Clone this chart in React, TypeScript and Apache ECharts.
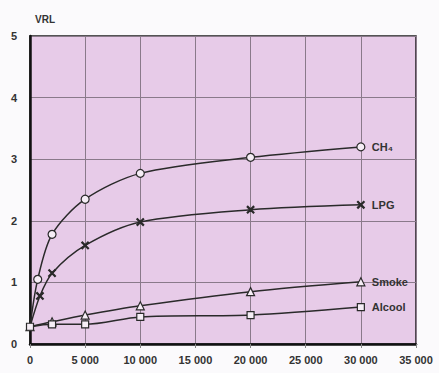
import React, { useEffect, useRef } from "react";
import * as echarts from "echarts";

const ch4X = [0, 700, 2000, 5000, 10000, 20000, 30000];
const ch4Y = [0.28, 1.05, 1.78, 2.35, 2.77, 3.03, 3.2];
const lpgX = [0, 900, 2000, 5000, 10000, 20000, 30000];
const lpgY = [0.28, 0.78, 1.15, 1.6, 1.98, 2.18, 2.26];
const smokeX = [0, 2000, 5000, 10000, 20000, 30000];
const smokeY = [0.28, 0.36, 0.47, 0.62, 0.85, 1.01];
const alcoolX = [0, 2000, 5000, 10000, 20000, 30000];
const alcoolY = [0.28, 0.32, 0.32, 0.44, 0.47, 0.6];
const seriesNames = ["CH₄", "LPG", "Smoke", "Alcool"];
const yTitle = "VRL";

const FONT = "Liberation Sans, Arial, sans-serif";
const INK = "#2a2a2a";
const X_SYMBOL = "path://M0,1L1,0L5,4L9,0L10,1L6,5L10,9L9,10L5,6L1,10L0,9L4,5Z";

function pairs(xs: number[], ys: number[], hideFirst: boolean) {
  return xs.map((x, i) =>
    hideFirst && i === 0 ? { value: [x, ys[i]], symbol: "none" } : { value: [x, ys[i]] }
  );
}

export default function App() {
  const ref = useRef<HTMLDivElement>(null);
  useEffect(() => {
    if (!ref.current) return;
    const chart = echarts.init(ref.current, null, { renderer: "svg" });
    const labelStyle = {
      show: true,
      distance: 11,
      color: "#333",
      fontFamily: FONT,
      fontSize: 11,
      fontWeight: "bold" as const,
    };
    const mk = (name: string, data: any[], symbol: string, size: number, fill: string) => ({
      name,
      type: "line",
      data,
      symbol,
      symbolSize: size,
      smooth: 0.3,
      lineStyle: { color: INK, width: 1.5 },
      itemStyle: { color: fill, borderColor: INK, borderWidth: 1.2 },
      endLabel: { ...labelStyle, formatter: name },
      z: 3,
    });
    chart.setOption({
      animation: false,
      backgroundColor: "#fbfafc",
      grid: {
        left: 30,
        right: 23,
        top: 36,
        bottom: 29,
        show: true,
        backgroundColor: "#e7cbe8",
        borderColor: "#1e1e1e",
        borderWidth: 1.5,
      },
      xAxis: {
        type: "value",
        min: 0,
        max: 35000,
        interval: 5000,
        axisLine: { show: true, lineStyle: { color: "#111", width: 2.5 } },
        axisTick: { show: true, length: 4, lineStyle: { color: "#888" } },
        splitLine: { show: true, lineStyle: { color: "#8a7a8a", width: 1 } },
        axisLabel: {
          margin: 10,
          color: "#333",
          fontFamily: FONT,
          fontSize: 11,
          fontWeight: "bold",
          formatter: (v: number) => (v === 0 ? "0" : String(v).replace(/(\d)(?=(\d{3})+$)/g, "$1 ")),
        },
      },
      yAxis: {
        type: "value",
        min: 0,
        max: 5,
        interval: 1,
        axisLine: { show: true, lineStyle: { color: "#111", width: 2.5 } },
        axisTick: { show: false },
        splitLine: { show: true, lineStyle: { color: "#8a7a8a", width: 1 } },
        axisLabel: {
          margin: 13,
          color: "#333",
          fontFamily: FONT,
          fontSize: 11,
          fontWeight: "bold",
        },
      },
      graphic: [
        {
          type: "text",
          left: 35,
          top: 14,
          style: { text: yTitle, fill: "#333", font: "bold 10px Liberation Sans, Arial, sans-serif" },
        },
      ],
      series: [
        mk(seriesNames[0], pairs(ch4X, ch4Y, true), "circle", 8, "#f6eef6"),
        mk(seriesNames[1], pairs(lpgX, lpgY, true), X_SYMBOL, 7, INK),
        mk(seriesNames[2], pairs(smokeX, smokeY, false), "triangle", 8, "#f6eef6"),
        mk(seriesNames[3], pairs(alcoolX, alcoolY, false), "rect", 7, "#f6eef6"),
      ],
    });
    return () => chart.dispose();
  }, []);
  return (
    <div
      ref={ref}
      style={{ position: "fixed", left: 0, top: 0, width: 439, height: 373 }}
    />
  );
}
